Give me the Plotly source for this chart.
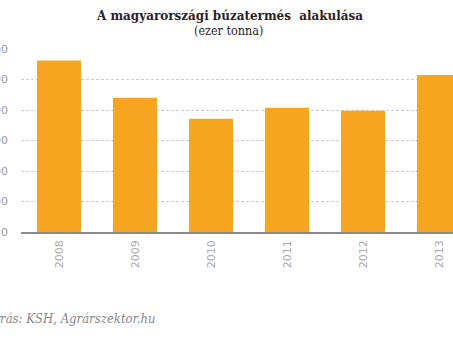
import plotly.graph_objects as go

years = ["2008", "2009", "2010", "2011", "2012", "2013"]
values = [5625, 4405, 3715, 4075, 3975, 5150]
y_ticks = [0, 1000, 2000, 3000, 4000, 5000, 6000]

title = "<b>A magyarországi búzatermés  alakulása</b>"
subtitle = "(ezer tonna)"
source = "Forrás: KSH, Agrárszektor.hu"

fig = go.Figure(go.Bar(x=years, y=values, marker=dict(color="#F6A520", line=dict(width=0))))

W, H = 453, 340
ml, mr, mt, mb = 21, 0, 49, 108
pw = W - ml - mr
ph = H - mt - mb
SERIF = "DejaVu Serif Condensed, DejaVu Serif, serif"

fig.update_layout(
    width=W, height=H,
    margin=dict(l=ml, r=mr, t=mt, b=mb, autoexpand=False),
    paper_bgcolor="white", plot_bgcolor="white",
    bargap=0.42,
    showlegend=False,
    font=dict(family="DejaVu Sans", color="#999999", size=11),
)
fig.update_xaxes(
    type="category",
    range=[-0.5, -0.5 + pw / 76.0],
    tickangle=-90,
    showgrid=False,
    showline=True, linecolor="#8a8a8a", linewidth=1.5,
    ticks="", ticklabelstandoff=2,
    tickfont=dict(family="DejaVu Sans", size=11, color="#aaaaaa"),
    automargin=False,
)
fig.update_yaxes(
    range=[0, 6000],
    tickvals=y_ticks,
    ticktext=[str(v) for v in y_ticks],
    showgrid=True, gridcolor="#cccccc", griddash="3px,2px", gridwidth=1,
    zeroline=False, showline=False,
    ticks="", ticklabelstandoff=12,
    tickfont=dict(family="DejaVu Sans", size=11, color="#999999"),
    automargin=False,
)

fig.add_annotation(text=title, xref="paper", yref="paper",
                   x=(229.5 - ml) / pw, y=1 + (49 - 15) / ph,
                   xanchor="center", yanchor="middle", showarrow=False,
                   font=dict(family=SERIF, size=13.3, color="#2b2226"))
fig.add_annotation(text=subtitle, xref="paper", yref="paper",
                   x=(228.5 - ml) / pw, y=1 + (49 - 31) / ph,
                   xanchor="center", yanchor="middle", showarrow=False,
                   font=dict(family=SERIF, size=12.5, color="#2b2226"))
fig.add_annotation(text="<i>" + source + "</i>", xref="paper", yref="paper",
                   x=(-23 - ml) / pw, y=-(318 - (H - mb)) / ph,
                   xanchor="left", yanchor="middle", showarrow=False,
                   font=dict(family=SERIF, size=13, color="#888888"))

fig.write_html("out.html")
